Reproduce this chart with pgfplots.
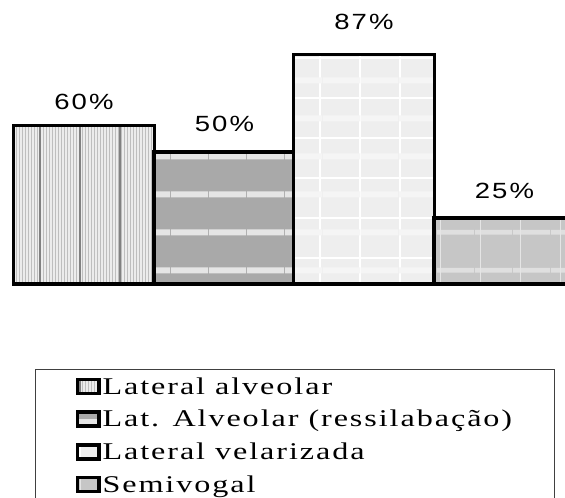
\documentclass[border=0pt]{standalone}
\usepackage{fontspec}
\setmainfont{Liberation Serif}
\newfontfamily\legfont[LetterSpace=6]{Liberation Serif}
\newfontfamily\lblfont[LetterSpace=8]{Liberation Sans}
\usepackage{graphicx}
\usepackage{pgfplots}
\pgfplotsset{compat=1.18}
\usetikzlibrary{patterns.meta}
\definecolor{barA}{HTML}{BEBEBE}
\definecolor{barB}{HTML}{A9A9A9}
\definecolor{barC}{HTML}{EEEEEE}
\definecolor{barD}{HTML}{C6C6C6}
\newcommand\leg[1]{\scalebox{1.34}[1]{#1}}
\newcommand\lbl[1]{\scalebox{1.25}[1]{\lblfont\fontsize{22}{25}\selectfont #1\%}}

\begin{document}
\begin{tikzpicture}
\path[use as bounding box] (0,0) rectangle (565pt,498pt);
\clip (0,0) rectangle (565pt,498pt);
\begin{axis}[
    at={(0,0)}, anchor=south west,
    scale only axis, width=565pt, height=498pt,
    xmin=0, xmax=565, ymin=-81.06, ymax=107.58,
    hide axis,
    ybar, bar width=141pt, bar shift=0pt,
    point meta=y,
    /pgf/number format/assume math mode=true,
    nodes near coords={\lbl{\pgfmathprintnumber{\pgfplotspointmeta}}},
    every node near coord/.append style={anchor=base, inner sep=0pt},
    legend image code/.code={\draw[#1, line width=3.5pt] (1.75pt,-7pt) rectangle (23.25pt,7pt);},
    legend style={at={(rel axis cs:0.062,0.259)}, anchor=north west,
        draw=black!75, line width=1pt, inner xsep=40pt, inner ysep=6pt,
        row sep=10.5pt, font=\legfont\fontsize{24}{28}\selectfont,
        cells={anchor=west}},
]
\addplot[draw=black, line width=3.5pt, fill=barA,
    postaction={pattern={Lines[angle=90, distance=3pt, line width=1.1pt]}, pattern color=white!85!gray},
    postaction={pattern={Lines[angle=90, distance=40pt, line width=1.5pt]}, pattern color=gray},
    every node near coord/.append style={yshift=16pt}]
    coordinates {(84,60)};
\addlegendentry{\leg{Lateral alveolar}}
\addplot[draw=black, line width=3.5pt, fill=barB,
    postaction={pattern={Lines[angle=0, distance=38pt, line width=6pt]}, pattern color=gray!20},
    every node near coord/.append style={yshift=21pt}]
    coordinates {(224.5,50)};
\addlegendentry{\leg{Lat. Alveolar (ressilabação)}}
\addplot[draw=black, line width=3.5pt, fill=barC,
    postaction={pattern={Hatch[distance=40pt, line width=1.2pt]}, pattern color=white},
    postaction={pattern={Lines[angle=0, distance=38pt, line width=6pt]}, pattern color=gray!8},
    every node near coord/.append style={yshift=25pt}]
    coordinates {(364,87)};
\addlegendentry{\leg{Lateral velarizada}}
\addplot[draw=black, line width=3.5pt, fill=barD,
    postaction={pattern={Lines[angle=0, distance=38pt, line width=5pt]}, pattern color=gray!25},
    postaction={pattern={Lines[angle=90, distance=40pt, line width=1pt]}, pattern color=gray!20},
    every node near coord/.append style={yshift=20pt}]
    coordinates {(504.5,25)};
\addlegendentry{\leg{Semivogal}}
\end{axis}
\end{tikzpicture}
\end{document}
